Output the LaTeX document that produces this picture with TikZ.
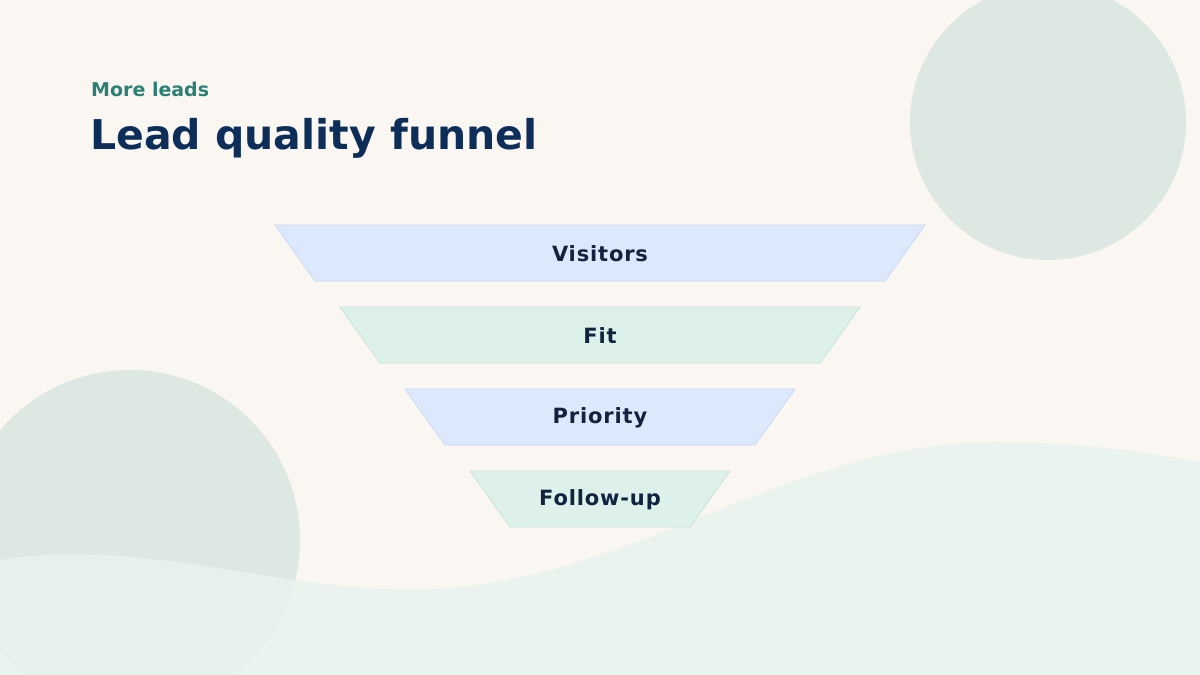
\documentclass[tikz,border=0pt]{standalone}
\usepackage{fontspec}
\setmainfont{DejaVu Sans}
\newfontfamily\lblfont[LetterSpace=4]{DejaVu Sans}
\definecolor{bg}{HTML}{FAF7F2}
\definecolor{circ}{HTML}{DDE8E2}
\definecolor{wave}{HTML}{E8F3EE}
\definecolor{fblue}{HTML}{DCE8FB}
\definecolor{fgreen}{HTML}{DDF0E9}
\definecolor{bblue}{HTML}{C9DAF5}
\definecolor{bgreen}{HTML}{C8E4DA}
\definecolor{teal}{HTML}{2A8074}
\definecolor{navy}{HTML}{0E2E5A}
\definecolor{lab}{HTML}{13223F}
\begin{document}
\begin{tikzpicture}[x=1pt,y=-1pt,
  lbl/.style={font=\lblfont\bfseries\fontsize{21}{26}\selectfont,text=lab},
  tb/.style={fill=fblue,draw=bblue,line width=0.8pt},
  tg/.style={fill=fgreen,draw=bgreen,line width=0.8pt}]
\fill[bg] (0,0) rectangle (1200,675);
\useasboundingbox (0,0) rectangle (1200,675);
\fill[circ] (1048,122) circle (138);
\fill[circ] (130,540) circle (170);
\fill[wave,opacity=0.85] (0,560) .. controls (150,535) and (300,600) .. (450,588)
  .. controls (650,570) and (800,440) .. (1000,442)
  .. controls (1100,443) and (1160,455) .. (1200,462) -- (1200,675) -- (0,675) -- cycle;
\node[anchor=base west,text=teal,font=\bfseries\fontsize{19}{24}\selectfont,inner sep=0] (sub) at (91,96) {More leads};
\node[anchor=base west,text=navy,font=\bfseries\fontsize{41}{50}\selectfont,inner sep=0] (title) at (90,149) {Lead quality funnel};
\draw[tb] (275,225) -- (925,225) -- (885,281) -- (315,281) -- cycle;
\draw[tg] (340,307) -- (860,307) -- (820,363) -- (380,363) -- cycle;
\draw[tb] (405,389) -- (795,389) -- (755,445) -- (445,445) -- cycle;
\draw[tg] (470,471) -- (730,471) -- (690,527) -- (510,527) -- cycle;
\node[lbl] (v) at (600,254) {Visitors};
\node[lbl] (f) at (600,336) {Fit};
\node[lbl] (p) at (600,418) {Priority};
\node[lbl] (u) at (600,500) {Follow-up};
\end{tikzpicture}
\end{document}
